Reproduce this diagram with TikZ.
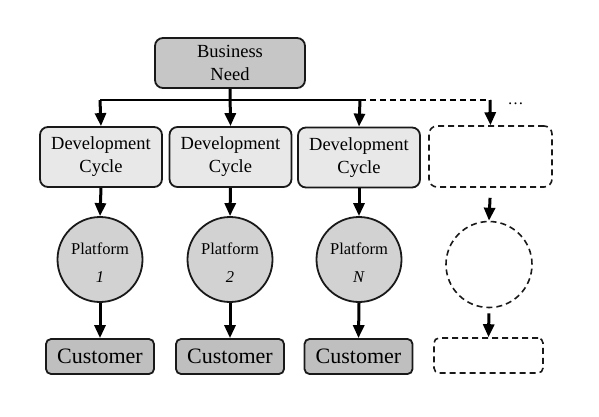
\documentclass[tikz,border=0pt]{standalone}
\usepackage{fontspec}
\setmainfont{Liberation Serif}
\usetikzlibrary{arrows.meta}
\begin{document}
\begin{tikzpicture}[x=1pt,y=-1pt,
  box/.style={draw=black!90,line width=1.8pt,rounded corners=8pt,minimum width=122pt,minimum height=60pt,align=center,inner sep=0pt},
  bnbox/.style={box,fill=gray!45!white,minimum width=150pt,minimum height=50pt,font=\fontsize{18.5}{23}\selectfont},
  dcbox/.style={box,fill=gray!18!white,font=\fontsize{18.5}{23}\selectfont},
  plat/.style={circle,draw=black!90,line width=1.8pt,fill=gray!35!white,minimum size=85pt,inner sep=0pt},
  plattext/.style={align=center,inner sep=0pt,font=\fontsize{16.5}{19}\selectfont},
  cust/.style={draw=black!90,line width=1.8pt,rounded corners=5pt,fill=gray!50!white,minimum width=108pt,minimum height=35pt,inner sep=0pt,font=\fontsize{22}{26}\selectfont},
  ghost/.style={draw=black!90,line width=1.6pt,dash pattern=on 6pt off 4pt,fill=none},
  arr/.style={line width=3pt,-{Triangle[length=13pt,width=11pt]}},
  bus/.style={line width=2pt}
]
\useasboundingbox (0,0) rectangle (599,416);

\node[bnbox] (bn) at (230,63) {Business\\Need};

\node[dcbox] (dc1) at (101,157) {Development\\Cycle};
\node[dcbox] (dc2) at (230.5,157) {Development\\Cycle};
\node[dcbox] (dc3) at (359,157.5) {Development\\Cycle};
\node[box,ghost,minimum width=123pt,minimum height=61pt] (dc4) at (490.5,156.5) {};

\node[plat] (p1) at (100,259.5) {};
\node[plat] (p2) at (230,259.5) {};
\node[plat] (p3) at (359,259.5) {};
\node[circle,ghost,minimum size=86pt,inner sep=0pt] (p4) at (489,264.5) {};
\node[plattext] (t1) at (100,263) {Platform\\[9pt]\textit{1}};
\node[plattext] (t2) at (230,263) {Platform\\[9pt]\textit{2}};
\node[plattext] (t3) at (359,263) {Platform\\[9pt]\textit{N}};

\node[cust] (c1) at (100,356.5) {Customer};
\node[cust] (c2) at (230,356.5) {Customer};
\node[cust] (c3) at (358.5,356.5) {Customer};
\node[ghost,rounded corners=5pt,minimum width=109pt,minimum height=35pt,inner sep=0pt] (c4) at (488.5,355.5) {};

\coordinate (j1) at (100,100);
\coordinate (j3) at (360,100);
\coordinate (j4) at (490,100);
\node[font=\fontsize{16}{19}\selectfont,inner sep=0pt] (dots) at (515.5,104) {\dots};

\draw[bus] (j1) -- (j3);
\draw[bus,dash pattern=on 6pt off 4pt] (j3) -- (j4);
\draw[arr] (j1) -- (dc1.north);
\draw[arr] (bn.south) -- (dc2.north);
\draw[arr] (j3) -- (dc3.north);
\draw[arr] (j4) -- (dc4.north);

\draw[arr] (dc1.south) -- (p1.north);
\draw[arr] (dc2.south) -- (p2.north);
\draw[arr] (dc3.south) -- (p3.north);
\draw[arr,shorten <=10pt] (dc4.south) -- (p4.north);

\draw[arr] (p1.south) -- (c1.north);
\draw[arr] (p2.south) -- (c2.north);
\draw[arr] (p3.south) -- (c3.north);
\draw[arr,shorten <=5pt] (p4.south) -- (c4.north);
\end{tikzpicture}
\end{document}
